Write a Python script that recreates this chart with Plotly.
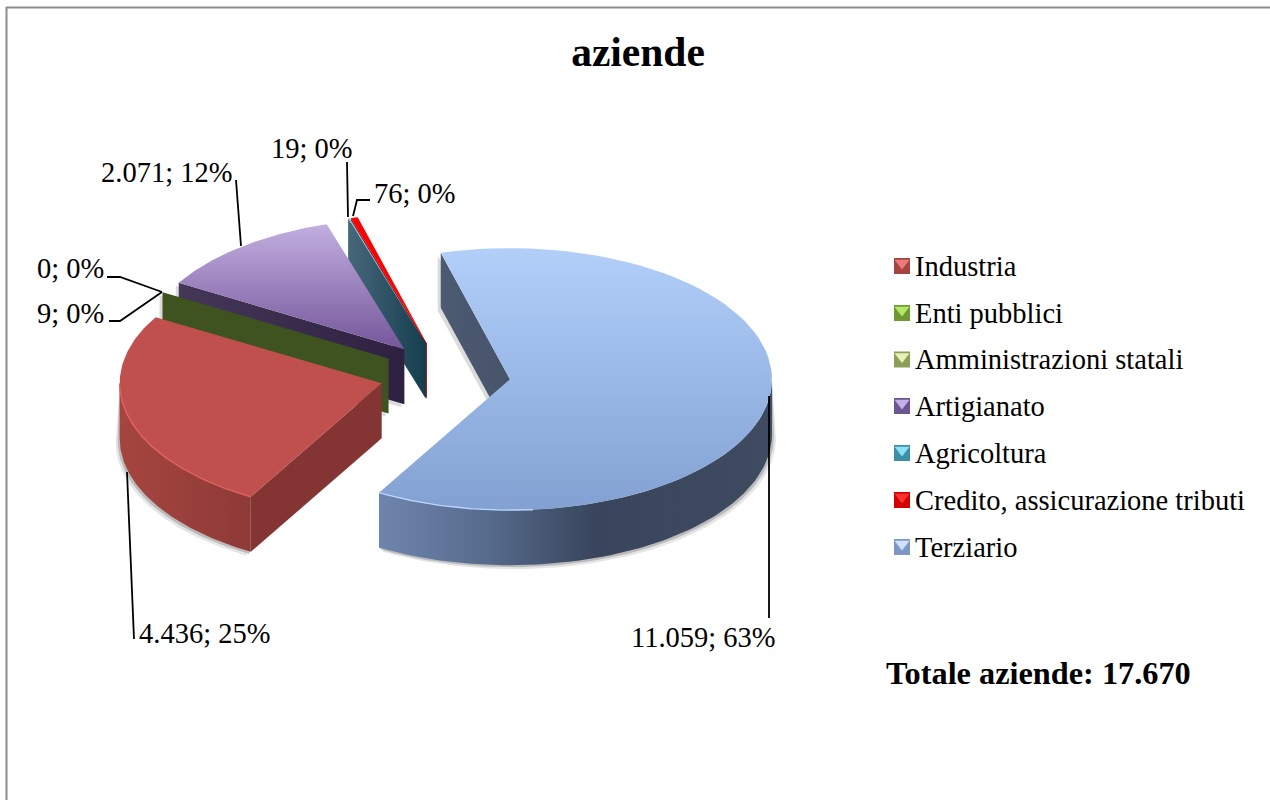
import math
import plotly.graph_objects as go

# ---- data ----
categories = ["Industria", "Enti pubblici", "Amministrazioni statali", "Artigianato",
              "Agricoltura", "Credito, assicurazione tributi", "Terziario"]
values = [4436, 9, 0, 2071, 19, 76, 11059]
title_text = "aziende"
total_text = "Totale aziende: 17.670"

# ---- styles and geometry ----
W, H = 1270, 800
CX, CY, RX, RY = 445, 375, 262, 131   # projected pie
DEPTH = 55
EXPLODE = 0.25
FIRST_ANGLE = 210
FONT = "Liberation Serif"
LABEL_SIZE = 28.5

top_fill = {
    "Industria": ("#C0504D", "#C0504D"), "Enti pubblici": ("#9BBB59", "#9BBB59"),
    "Amministrazioni statali": ("#9BBB59", "#9BBB59"), "Artigianato": ("#C2AEE0", "#74569A"),
    "Agricoltura": ("#7FC4DC", "#7FC4DC"), "Credito, assicurazione tributi": ("#FF0000", "#FF0000"),
    "Terziario": ("#B2CFFA", "#82A1D2"),
}
start_wall = {
    "Industria": ("#843432", "#843432"), "Enti pubblici": ("#3E5320", "#3E5320"),
    "Amministrazioni statali": ("#3E5320", "#3E5320"), "Artigianato": ("#453757", "#2E2040"),
    "Agricoltura": ("#47677A", "#143E4E"), "Credito, assicurazione tributi": ("#8A0000", "#8A0000"),
    "Terziario": ("#4C5A72", "#47546A"),
}
rim_wall = {
    "Industria": [[0, "#A6453F"], [1, "#8E3A37"]],
    "Terziario": [[0, "#6F85AC"], [0.28, "#566A8C"], [0.55, "#38455C"], [1, "#3F4B60"]],
}
rim_light = {"Industria": "#E0625E", "Terziario": "#B8D4FF"}
legend_colors = {
    "Industria": ("#A54441", "#E87C78"), "Enti pubblici": ("#6F9A32", "#B4E86A"),
    "Amministrazioni statali": ("#8A9F58", "#E6F2B8"), "Artigianato": ("#6D5590", "#C4B0E4"),
    "Agricoltura": ("#3D8FA8", "#8CE0F4"), "Credito, assicurazione tributi": ("#D40000", "#FF3030"),
    "Terziario": ("#7F97C4", "#CFE2FF"),
}
legend_y = [266, 313, 359.5, 406, 453, 500, 547]
label_pos = {
    "Industria": (204, 633), "Enti pubblici": (70.5, 313), "Amministrazioni statali": (70, 268),
    "Artigianato": (166.5, 172), "Agricoltura": (312, 148),
    "Credito, assicurazione tributi": (415, 193), "Terziario": (703, 637),
}
leaders = {
    "Industria": [(127, 472), (134, 639)],
    "Enti pubblici": [(109, 321), (120, 321), (162, 292)],
    "Amministrazioni statali": [(107, 277), (120, 277), (162, 292)],
    "Artigianato": [(236, 180), (241, 246)],
    "Agricoltura": [(347, 162), (348, 217)],
    "Credito, assicurazione tributi": [(370, 200), (357, 200), (353, 216)],
    "Terziario": [(769, 396), (769, 618)],
}

total = sum(values)


def thousands(v):
    return f"{v:,}".replace(",", ".")


def pt(c, a, dy=0):
    r = math.radians(a)
    return c[0] + RX * math.sin(r), c[1] - RY * math.cos(r) + dy


def arc(c, a0, a1, dy=0, n=80):
    return [pt(c, a0 + (a1 - a0) * i / n, dy) for i in range(n + 1)]


fig = go.Figure()


def poly(points, colors, orient="vertical", name=None):
    xs = [p[0] for p in points] + [points[0][0]]
    ys = [p[1] for p in points] + [points[0][1]]
    if isinstance(colors, tuple):
        if colors[0] == colors[1]:
            fig.add_trace(go.Scatter(x=xs, y=ys, mode="lines", fill="toself", fillcolor=colors[0],
                                     line=dict(width=0), hoverinfo="skip", name=name))
            return
        colors = [[0, colors[0]], [1, colors[1]]]
    axis = ys if orient == "vertical" else xs
    fig.add_trace(go.Scatter(x=xs, y=ys, mode="lines", fill="toself",
                             fillgradient=dict(type=orient, colorscale=colors,
                                               start=min(axis), stop=max(axis)),
                             line=dict(width=0), hoverinfo="skip", name=name))


# slice angular spans
spans = {}
a = FIRST_ANGLE
for cat, v in zip(categories, values):
    sweep = v / total * 360
    spans[cat] = (a, a + sweep)
    a += sweep

centers = {}
for cat, (a0, a1) in spans.items():
    mid = math.radians((a0 + a1) / 2)
    centers[cat] = (CX + RX * EXPLODE * math.sin(mid), CY - RY * EXPLODE * math.cos(mid))


def rim_span(cat):
    # the part of a slice's outer edge that faces the viewer (lower half of the ellipse)
    a0, a1 = spans[cat]
    return (a0, 270) if cat == "Industria" else (450, a1)


draw_order = ["Credito, assicurazione tributi", "Agricoltura", "Artigianato",
              "Amministrazioni statali", "Enti pubblici", "Industria", "Terziario"]

for cat in draw_order:
    a0, a1 = spans[cat]
    c = centers[cat]
    if a1 - a0 == 0:
        continue
    rim_start = pt(c, a0)
    inner = c

    # soft shadow below the outer wall
    if cat in rim_wall:
        lo, hi = rim_span(cat)
        bottom = arc(c, lo, hi, DEPTH)
        top = arc(c, hi, lo)
        for off, alpha in ((4, 0.10), (2, 0.18)):
            sign = -1 if cat == "Industria" else 1
            shadow = [(x + sign * off, y + off) for x, y in bottom]
            poly(shadow + top, (f"rgba(0,0,0,{alpha})", f"rgba(0,0,0,{alpha})"))

    # wall along the start edge
    w = [inner, rim_start, pt(c, a0, DEPTH), (inner[0], inner[1] + DEPTH)]
    if cat in ("Terziario", "Artigianato", "Enti pubblici", "Industria"):
        sh = [(p[0] - 3, p[1] + 3) for p in w]
        poly(sh, ("rgba(0,0,0,0.14)", "rgba(0,0,0,0.14)"))
    poly(w, start_wall[cat], "horizontal")

    # outer wall along the front of the pie
    if cat in rim_wall:
        lo, hi = rim_span(cat)
        poly(arc(c, lo, hi) + arc(c, hi, lo, DEPTH), rim_wall[cat], "horizontal")

    # top face
    poly([inner] + arc(c, a0, a1), top_fill[cat], "vertical", name=cat)

    if cat in rim_light:
        lo, hi = rim_span(cat)
        if cat == "Terziario":
            lo = 535
        rim = arc(c, lo, hi)
        fig.add_trace(go.Scatter(x=[p[0] for p in rim], y=[p[1] for p in rim], mode="lines",
                                 line=dict(color=rim_light[cat], width=1.4), hoverinfo="skip"))

# leader lines
for cat, pts in leaders.items():
    fig.add_trace(go.Scatter(x=[p[0] for p in pts], y=[p[1] for p in pts], mode="lines",
                             line=dict(color="#000000", width=1.8), hoverinfo="skip"))

# data labels
annotations = []
for cat, v in zip(categories, values):
    pct = round(v / total * 100)
    x, y = label_pos[cat]
    annotations.append(dict(x=x, y=y, xref="x", yref="y", text=f"{thousands(v)}; {pct}%", showarrow=False,
                            xanchor="center", yanchor="middle",
                            font=dict(family=FONT, size=LABEL_SIZE, color="#000000")))

# legend
for cat, y in zip(categories, legend_y):
    dark, light = legend_colors[cat]
    fig.add_trace(go.Scatter(x=[902], y=[y], mode="markers", hoverinfo="skip",
                             marker=dict(symbol="square", size=16, color=dark, line=dict(width=0))))
    fig.add_trace(go.Scatter(x=[902], y=[y - 3], mode="markers", hoverinfo="skip",
                             marker=dict(symbol="triangle-down", size=13, color=light, line=dict(width=0))))
    annotations.append(dict(x=913, y=y, xref="x", yref="y", text=cat, showarrow=False,
                            xanchor="left", yanchor="middle",
                            font=dict(family=FONT, size=LABEL_SIZE, color="#000000")))

annotations.append(dict(x=884, y=673, xref="x", yref="y", text=f"<b>{total_text}</b>", showarrow=False,
                        xanchor="left", yanchor="middle",
                        font=dict(family=FONT, size=32.3, color="#000000")))

fig.update_layout(
    width=W, height=H, autosize=False, showlegend=False,
    margin=dict(l=0, r=0, t=0, b=0),
    paper_bgcolor="#FFFFFF", plot_bgcolor="#FFFFFF",
    title=dict(text=f"<b>{title_text}</b>", x=638 / W, xanchor="center", y=1 - 51.5 / H, yanchor="middle",
               font=dict(family=FONT, size=41.5, color="#000000")),
    xaxis=dict(range=[0, W], visible=False, fixedrange=True),
    yaxis=dict(range=[H, 0], visible=False, fixedrange=True),
    annotations=annotations,
    shapes=[
        dict(type="line", xref="x", yref="y", x0=6, y0=7.5, x1=W, y1=7.5, line=dict(color="#8C8C8C", width=2)),
        dict(type="line", xref="x", yref="y", x0=6.5, y0=7, x1=6.5, y1=H, line=dict(color="#8C8C8C", width=2)),
    ],
)

fig.write_html("out.html", config={"displayModeBar": False},
               post_script="document.body.style.margin='0';document.body.style.overflow='hidden';")
